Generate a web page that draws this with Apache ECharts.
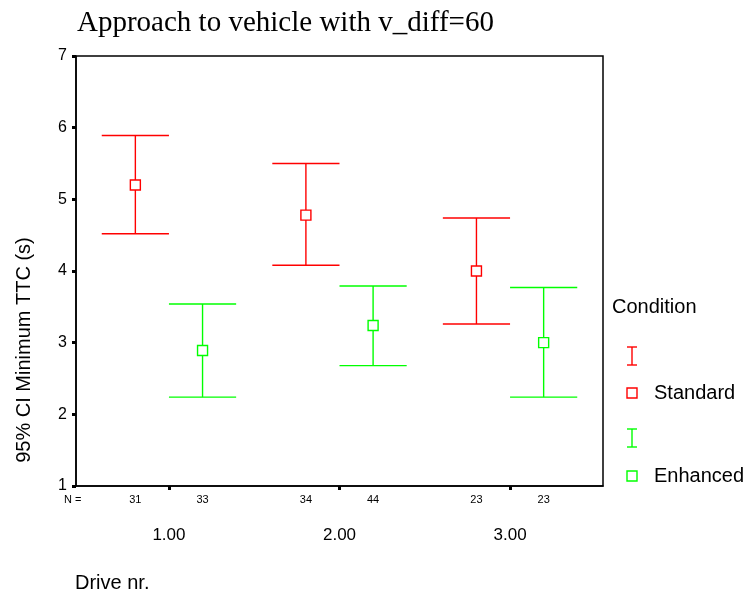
<!DOCTYPE html>
<html>
<head>
<meta charset="utf-8">
<script src="https://cdn.jsdelivr.net/npm/echarts@6/dist/echarts.min.js"></script>
<style>html,body{margin:0;padding:0;background:#fff}#c{width:750px;height:596px}</style>
</head>
<body>
<div id="c"></div>
<script>
var driveValues = [1, 2, 3];
var driveLabels = ['1.00', '2.00', '3.00'];
var yTicks = [1, 2, 3, 4, 5, 6, 7];

var standardMean = [5.20, 4.78, 4.00];
var standardLow  = [4.52, 4.08, 3.26];
var standardHigh = [5.89, 5.50, 4.74];
var standardN    = [31, 34, 23];

var enhancedMean = [2.89, 3.24, 3.00];
var enhancedLow  = [2.24, 2.68, 2.24];
var enhancedHigh = [3.54, 3.79, 3.77];
var enhancedN    = [33, 44, 23];

var RED = '#ff0000', GREEN = '#00ff00';
var FONT = '"Liberation Sans", Arial, sans-serif';
var OFFSET = 0.197;

function buildData(means, lows, highs, ns) {
  return driveValues.map(function (d, i) { return [d, means[i], lows[i], highs[i], ns[i]]; });
}

function makeRender(color, side) {
  return function (params, api) {
    var x = api.value(0) + side * OFFSET;
    var pMean = api.coord([x, api.value(1)]);
    var pLow = api.coord([x, api.value(2)]);
    var pHigh = api.coord([x, api.value(3)]);
    var pBase = api.coord([x, 1]);
    var half = api.size([OFFSET, 0])[0];
    var s = 5;
    var ls = { stroke: color, lineWidth: 1.4 };
    return {
      type: 'group',
      children: [
        { type: 'line', shape: { x1: pHigh[0], y1: pHigh[1], x2: pMean[0], y2: pMean[1] - s }, style: ls },
        { type: 'line', shape: { x1: pMean[0], y1: pMean[1] + s, x2: pLow[0], y2: pLow[1] }, style: ls },
        { type: 'line', shape: { x1: pHigh[0] - half, y1: pHigh[1], x2: pHigh[0] + half, y2: pHigh[1] }, style: ls },
        { type: 'line', shape: { x1: pLow[0] - half, y1: pLow[1], x2: pLow[0] + half, y2: pLow[1] }, style: ls },
        { type: 'rect', shape: { x: pMean[0] - s, y: pMean[1] - s, width: 2 * s, height: 2 * s }, style: { stroke: color, fill: 'none', lineWidth: 1.4 } },
        { type: 'text', style: { x: pBase[0], y: pBase[1] + 14, text: String(api.value(4)), fill: '#000', font: '11px ' + FONT, align: 'center', verticalAlign: 'middle' } }
      ]
    };
  };
}

function legendI(color, top) {
  return { type: 'group', x: 627, y: top, children: [
    { type: 'line', shape: { x1: 5, y1: 0, x2: 5, y2: 18 }, style: { stroke: color, lineWidth: 1.4 } },
    { type: 'line', shape: { x1: 0, y1: 0, x2: 10, y2: 0 }, style: { stroke: color, lineWidth: 1.4 } },
    { type: 'line', shape: { x1: 0, y1: 18, x2: 10, y2: 18 }, style: { stroke: color, lineWidth: 1.4 } }
  ] };
}

var chart = echarts.init(document.getElementById('c'), null, { renderer: 'canvas' });
chart.setOption({
  animation: false,
  backgroundColor: '#fff',
  grid: { left: 76, right: 147, top: 56, bottom: 110, show: true, borderColor: '#000', borderWidth: 1.5, backgroundColor: '#fff' },
  xAxis: {
    type: 'value', min: 0.455, max: 3.545,
    splitLine: { show: false },
    axisLine: { lineStyle: { color: '#000', width: 1.5 } },
    axisTick: { show: true, customValues: driveValues, length: 4, lineStyle: { color: '#000', width: 3 } },
    axisLabel: {
      customValues: driveValues, margin: 41, color: '#000', fontSize: 17, fontFamily: FONT,
      formatter: function (v) { return driveLabels[driveValues.indexOf(v)]; }
    }
  },
  yAxis: {
    type: 'value', min: 1, max: 7, interval: 1,
    splitLine: { show: false },
    axisLine: { show: true, lineStyle: { color: '#000', width: 1.5 } },
    axisTick: { show: true, length: 4, lineStyle: { color: '#000', width: 3 } },
    axisLabel: { color: '#000', fontSize: 16, fontFamily: FONT, margin: 9, formatter: function (v) { return yTicks.indexOf(v) >= 0 ? String(v) : ''; } }
  },
  series: [
    { type: 'custom', name: 'Standard', renderItem: makeRender(RED, -1), data: buildData(standardMean, standardLow, standardHigh, standardN), clip: false },
    { type: 'custom', name: 'Enhanced', renderItem: makeRender(GREEN, 1), data: buildData(enhancedMean, enhancedLow, enhancedHigh, enhancedN), clip: false }
  ],
  graphic: [
    { type: 'text', x: 77, y: 23, style: { text: 'Approach to vehicle with v_diff=60', fill: '#000', font: '29px "Liberation Serif", "Times New Roman", serif', align: 'left', verticalAlign: 'middle' } },
    { type: 'text', x: 24, y: 350, rotation: Math.PI / 2, style: { text: '95% CI Minimum TTC (s)', fill: '#000', font: '20px ' + FONT, align: 'center', verticalAlign: 'middle' } },
    { type: 'text', x: 64, y: 500, style: { text: 'N =', fill: '#000', font: '11px ' + FONT, verticalAlign: 'middle' } },
    { type: 'text', x: 75, y: 583, style: { text: 'Drive nr.', fill: '#000', font: '20px ' + FONT, verticalAlign: 'middle' } },
    { type: 'text', x: 612, y: 307, style: { text: 'Condition', fill: '#000', font: '20px ' + FONT, verticalAlign: 'middle' } },
    legendI(RED, 347),
    { type: 'rect', x: 627, y: 388, shape: { width: 10, height: 10 }, style: { stroke: RED, fill: 'none', lineWidth: 1.4 } },
    { type: 'text', x: 654, y: 393, style: { text: 'Standard', fill: '#000', font: '20px ' + FONT, verticalAlign: 'middle' } },
    legendI(GREEN, 429),
    { type: 'rect', x: 627, y: 471, shape: { width: 10, height: 10 }, style: { stroke: GREEN, fill: 'none', lineWidth: 1.4 } },
    { type: 'text', x: 654, y: 476, style: { text: 'Enhanced', fill: '#000', font: '20px ' + FONT, verticalAlign: 'middle' } }
  ]
});
</script>
</body>
</html>
